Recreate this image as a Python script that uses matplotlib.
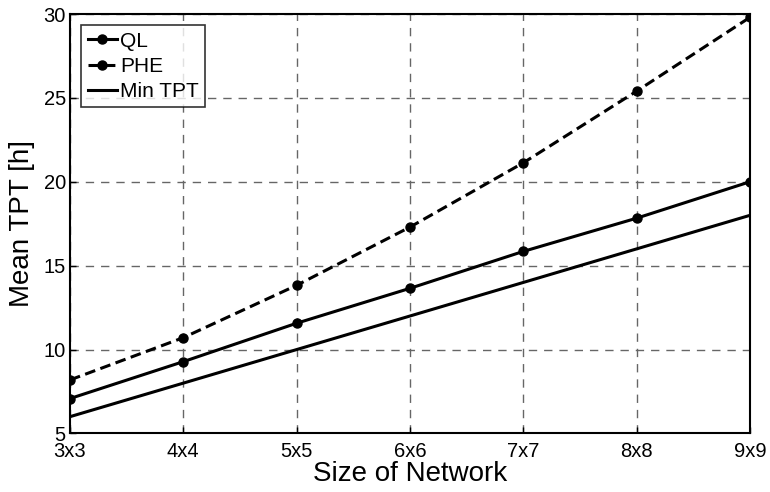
import matplotlib
matplotlib.use("Agg")
import matplotlib.pyplot as plt

plt.rcParams['font.family'] = ['Liberation Sans', 'DejaVu Sans']

# data
sizes = ['3x3', '4x4', '5x5', '6x6', '7x7', '8x8', '9x9']
ql = [7.08, 9.28, 11.57, 13.65, 15.85, 17.83, 20.0]
phe = [8.19, 10.71, 13.83, 17.3, 21.13, 25.4, 29.8]
min_tpt = [6, 8, 10, 12, 14, 16, 18]
y_ticks = [5, 10, 15, 20, 25, 30]

fig = plt.figure(figsize=(7.7, 4.92), dpi=100)
ax = fig.add_axes([0.0909, 0.119, 0.883, 0.8525])

x = list(range(len(sizes)))
ax.plot(x, ql, color='black', linestyle='-', linewidth=2.2, marker='o',
        markersize=6.5, label='QL')
ax.plot(x, phe, color='black', linestyle=(0, (3.5, 1.8)), linewidth=2.2,
        marker='o', markersize=6.5, label='PHE')
ax.plot(x, min_tpt, color='black', linestyle='-', linewidth=2.2, label='Min TPT')

ax.set_xlim(0, len(sizes) - 1)
ax.set_ylim(5, 30)
ax.set_xticks(x)
ax.set_xticklabels(sizes)
ax.set_yticks(y_ticks)

ax.grid(True, linestyle=(0, (6, 5)), color='#666666', linewidth=1.0)
ax.tick_params(direction='in', length=4, labelsize=14.5, width=1)
ax.tick_params(axis='x', pad=6)
ax.tick_params(axis='y', pad=3)
for s in ax.spines.values():
    s.set_linewidth(1.5)

ax.set_xlabel('Size of Network', fontsize=20, labelpad=0)
ax.set_ylabel('Mean TPT [h]', fontsize=20, labelpad=6)

leg = ax.legend(loc='upper left', fontsize=15, frameon=True, fancybox=False,
                edgecolor='black', handlelength=1.4, handletextpad=0.15,
                borderpad=0.3, labelspacing=0.3, borderaxespad=0.55)
leg.get_frame().set_linewidth(1.2)

fig.savefig('out.png', dpi=100)
